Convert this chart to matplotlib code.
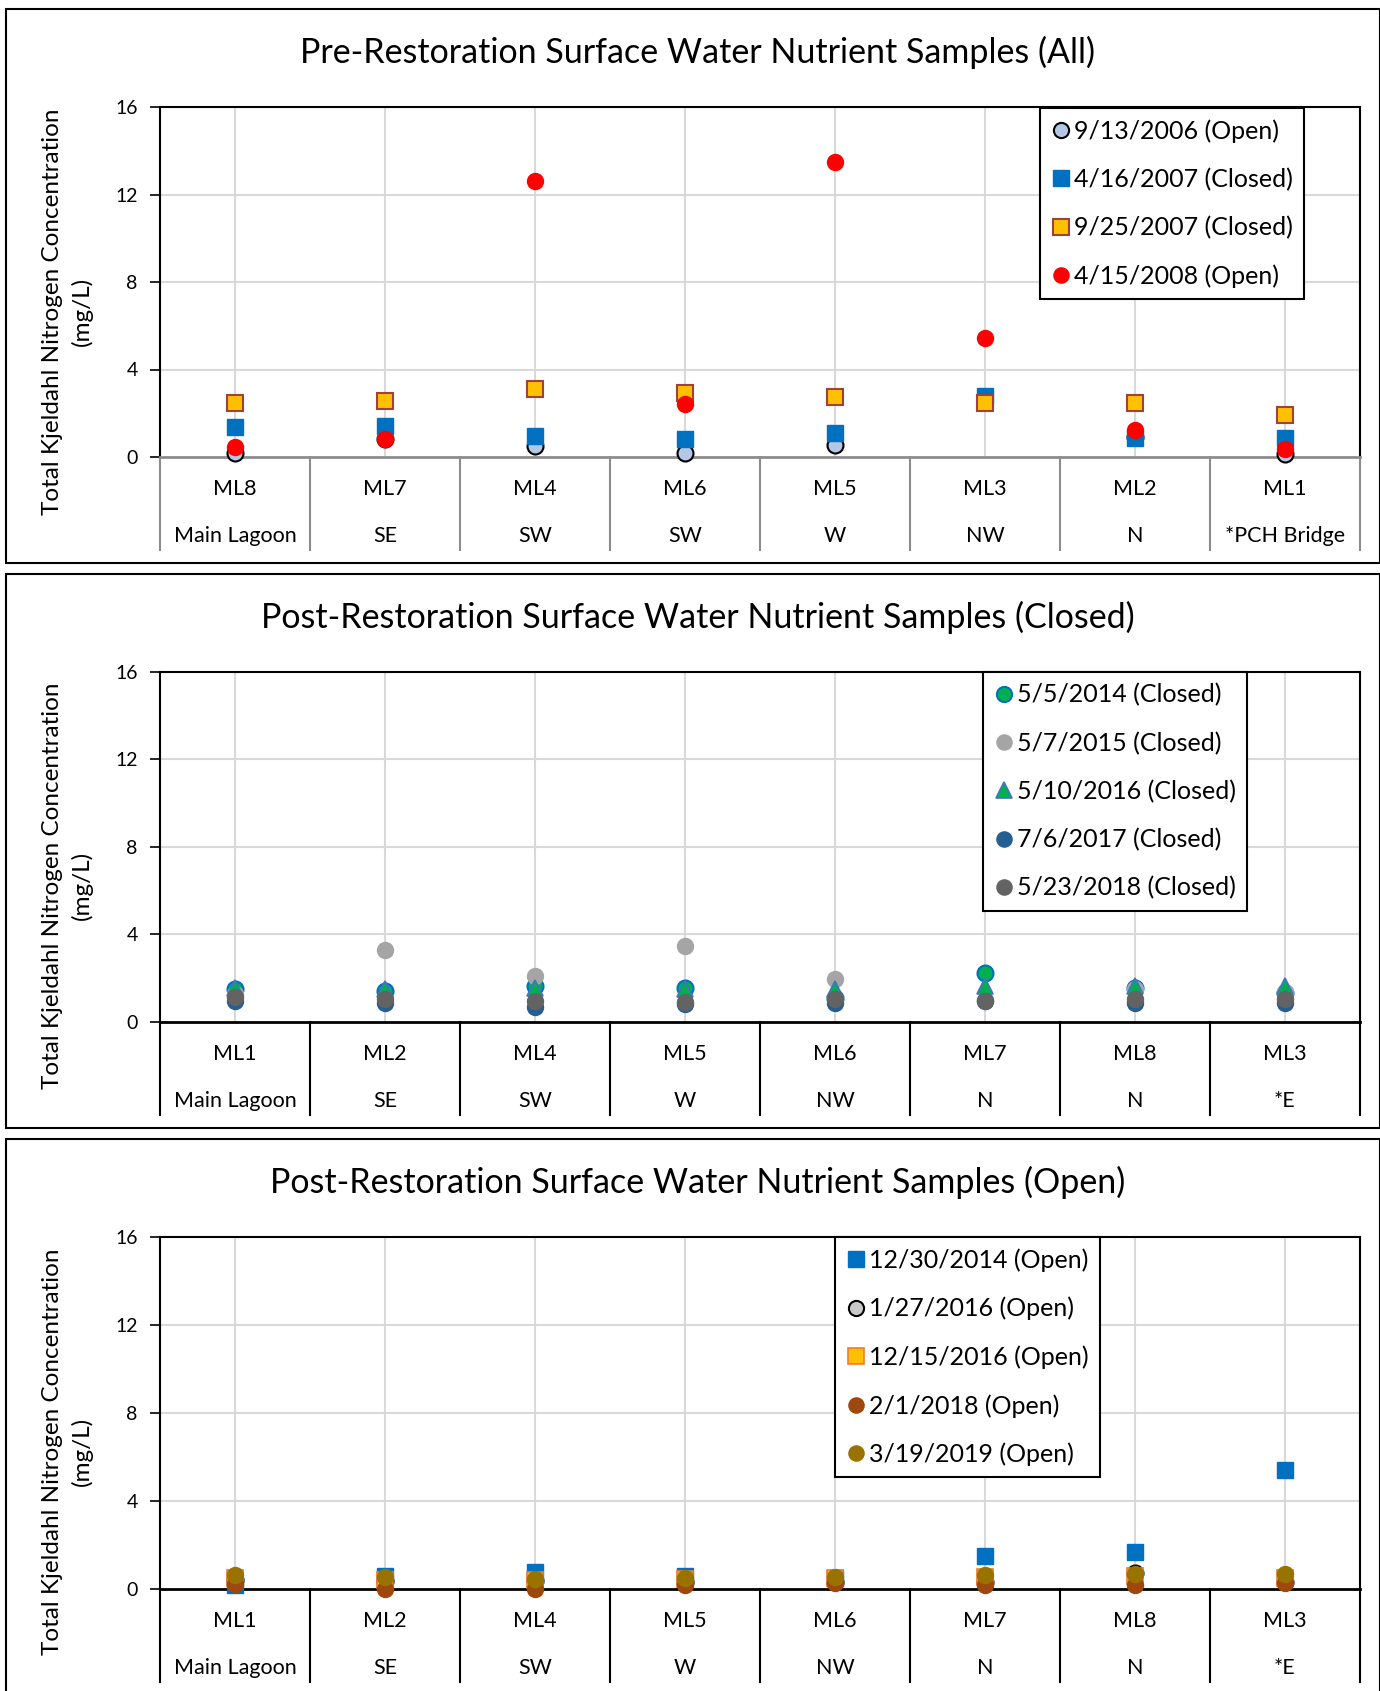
import numpy as np
import matplotlib.pyplot as plt
from matplotlib.patches import Rectangle
from matplotlib.lines import Line2D

plt.rcParams['font.family'] = ['Lato', 'DejaVu Sans']

nan = np.nan

# sampling sites and their lagoon zones
pre_sites = ['ML8', 'ML7', 'ML4', 'ML6', 'ML5', 'ML3', 'ML2', 'ML1']
pre_zones = ['Main Lagoon', 'SE', 'SW', 'SW', 'W', 'NW', 'N', '*PCH Bridge']
post_sites = ['ML1', 'ML2', 'ML4', 'ML5', 'ML6', 'ML7', 'ML8', 'ML3']
post_zones = ['Main Lagoon', 'SE', 'SW', 'W', 'NW', 'N', 'N', '*E']

# TKN (mg/L), pre-restoration
pre_2006_09_13 = [0.18, 0.84, 0.52, 0.18, 0.54, nan, 0.9, 0.15]
pre_2007_04_16 = [1.36, 1.44, 0.98, 0.84, 1.11, 2.8, 0.86, 0.85]
pre_2007_09_25 = [2.48, 2.55, 3.12, 2.94, 2.74, 2.49, 2.49, 1.92]
pre_2008_04_15 = [0.46, 0.84, 12.6, 2.43, 13.5, 5.46, 1.23, 0.35]

# post-restoration, mouth closed
closed_2014 = [1.52, 1.41, 1.64, 1.56, 1.1, 2.25, 1.56, 1.33]
closed_2015 = [1.3, 3.28, 2.1, 3.48, 1.95, 1.0, 1.49, 1.37]
closed_2016 = [1.55, 1.5, 1.56, 1.49, 1.49, 1.64, 1.64, 1.64]
closed_2017 = [0.95, 0.87, 0.69, 0.8, 0.87, 0.95, 0.87, 0.87]
closed_2018 = [1.13, 1.06, 0.95, 0.9, 1.07, 0.95, 1.07, 1.07]

# post-restoration, mouth open
open_2014 = [0.17, 0.58, 0.78, 0.58, 0.5, 1.52, 1.7, 5.39]
open_2016a = [0.4, 0.37, 0.37, 0.32, 0.33, 0.33, 0.74, 0.33]
open_2016b = [0.5, 0.42, 0.4, 0.45, 0.5, 0.55, 0.6, 0.5]
open_2018 = [0.25, 0.0, 0.02, 0.17, 0.26, 0.18, 0.18, 0.26]
open_2019 = [0.63, 0.55, 0.47, 0.52, 0.56, 0.64, 0.68, 0.68]

W, H = 1380, 1691
fig = plt.figure(figsize=(W / 100, H / 100), dpi=100)


def fx(px):
    return px / W


def fy(py):
    return 1 - py / H


MS = 11.5

panels = [
    dict(box=(6, 9, 1380, 563), title='Pre-Restoration Surface Water Nutrient Samples (All)',
         top=107, bottom=457, sites=pre_sites, zones=pre_zones, axcol='#8c8c8c',
         leg=(1040, 108), ylab_y=0.415,
         series=[
             ('9/13/2006 (Open)', pre_2006_09_13, dict(marker='o', mfc='#B4C7E7', mec='black', mew=1.5)),
             ('4/16/2007 (Closed)', pre_2007_04_16, dict(marker='s', mfc='#0070C0', mec='#0070C0', mew=1)),
             ('9/25/2007 (Closed)', pre_2007_09_25, dict(marker='s', mfc='#FFC000', mec='#A0413A', mew=1.5)),
             ('4/15/2008 (Open)', pre_2008_04_15, dict(marker='o', mfc='#FF0000', mec='#FF0000', mew=1)),
         ]),
    dict(box=(6, 574, 1380, 1128), title='Post-Restoration Surface Water Nutrient Samples (Closed)',
         top=672, bottom=1022, sites=post_sites, zones=post_zones, axcol='black',
         leg=(983, 672), ylab_y=0.39,
         series=[
             ('5/5/2014 (Closed)', closed_2014, dict(marker='o', mfc='#00B050', mec='#0070C0', mew=1.5)),
             ('5/7/2015 (Closed)', closed_2015, dict(marker='o', mfc='#A5A5A5', mec='#A5A5A5', mew=1)),
             ('5/10/2016 (Closed)', closed_2016, dict(marker='^', mfc='#00B050', mec='#4472C4', mew=1.2)),
             ('7/6/2017 (Closed)', closed_2017, dict(marker='o', mfc='#255E91', mec='#255E91', mew=1)),
             ('5/23/2018 (Closed)', closed_2018, dict(marker='o', mfc='#636363', mec='#636363', mew=1)),
         ]),
    dict(box=(6, 1139, 1380, 1700), title='Post-Restoration Surface Water Nutrient Samples (Open)',
         top=1237, bottom=1589, sites=post_sites, zones=post_zones, axcol='black',
         leg=(835, 1237), ylab_y=0.39,
         series=[
             ('12/30/2014 (Open)', open_2014, dict(marker='s', mfc='#0070C0', mec='#0070C0', mew=1)),
             ('1/27/2016 (Open)', open_2016a, dict(marker='o', mfc='#C9C9C9', mec='black', mew=1.5)),
             ('12/15/2016 (Open)', open_2016b, dict(marker='s', mfc='#FFC000', mec='#ED7D31', mew=1.2)),
             ('2/1/2018 (Open)', open_2018, dict(marker='o', mfc='#9E480E', mec='#9E480E', mew=1)),
             ('3/19/2019 (Open)', open_2019, dict(marker='o', mfc='#997300', mec='#997300', mew=1)),
         ]),
]

left, right = 160, 1360
for p in panels:
    x0, y0, x1, y1 = p['box']
    fig.add_artist(Rectangle((fx(x0), fy(y1)), fx(x1 - x0), (y1 - y0) / H,
                             transform=fig.transFigure, fill=False, ec='black', lw=1.5))
    fig.text(fx(698), fy(y0 + 43), p['title'], ha='center', va='center', fontsize=24.5)

    ax = fig.add_axes([fx(left), fy(p['bottom']), fx(right - left),
                       (p['bottom'] - p['top']) / H])
    n = len(p['sites'])
    xs = np.arange(n)
    ax.set_xlim(-0.5, n - 0.5)
    ax.set_ylim(0, 16)
    ax.set_yticks([0, 4, 8, 12, 16])
    ax.tick_params(axis='y', labelsize=14, length=7, width=1.2, pad=9)
    ax.set_xticks([])
    ax.grid(False)
    for v in [4, 8, 12]:
        ax.axhline(v, color='#D9D9D9', lw=1.5, zorder=0)
    for xv in xs:
        ax.axvline(xv, color='#D9D9D9', lw=1.5, zorder=0)
    for s in ['top', 'right', 'left']:
        ax.spines[s].set_color('black')
        ax.spines[s].set_linewidth(1.5)
    ax.spines['bottom'].set_color(p['axcol'])
    ax.spines['bottom'].set_linewidth(2)
    ax.set_ylabel('Total Kjeldahl Nitrogen Concentration\n(mg/L)', fontsize=17.5,
                  linespacing=1.45)
    ax.yaxis.set_label_coords(-0.056, p['ylab_y'])

    # two-level category axis under the plot
    tr = ax.get_xaxis_transform()
    depth = 93 / (p['bottom'] - p['top'])
    for b in np.arange(n + 1) - 0.5:
        ax.add_line(Line2D([b, b], [0, -depth], transform=tr, color=p['axcol'],
                           lw=1.5, clip_on=False))
    for xv, site, zone in zip(xs, p['sites'], p['zones']):
        ax.text(xv, -32 / (p['bottom'] - p['top']), site, transform=tr,
                ha='center', va='center', fontsize=15.5)
        ax.text(xv, -79 / (p['bottom'] - p['top']), zone, transform=tr,
                ha='center', va='center', fontsize=15.5)

    handles = []
    for label, vals, style in p['series']:
        ms = MS * 1.05 if style['marker'] == '^' else MS
        h, = ax.plot(xs, vals, ls='none', ms=ms, label=label, clip_on=False, zorder=3, **style)
        handles.append(h)

    leg = ax.legend(handles=handles, loc='upper left',
                    bbox_to_anchor=(fx(p['leg'][0]), fy(p['leg'][1])),
                    bbox_transform=fig.transFigure, fontsize=18, frameon=True,
                    fancybox=False, borderpad=0.45, labelspacing=1.0,
                    handlelength=0.75, handletextpad=0.15, borderaxespad=0,
                    markerscale=0.95)
    leg.get_frame().set_edgecolor('black')
    leg.get_frame().set_linewidth(1.5)
    leg.get_frame().set_alpha(1)

fig.savefig('out.png', dpi=100)
